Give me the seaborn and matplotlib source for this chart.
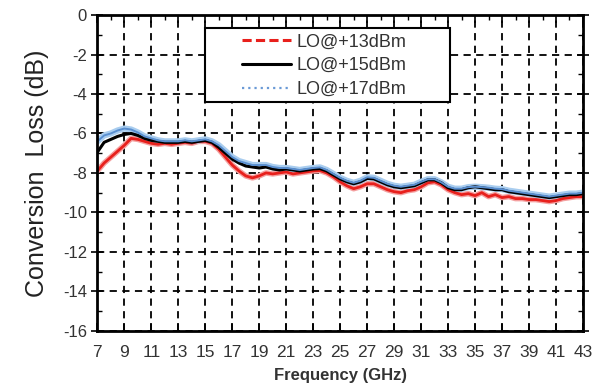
import matplotlib.pyplot as plt
import numpy as np
import pandas as pd
import seaborn as sns
from matplotlib.lines import Line2D
from matplotlib.patches import Rectangle
from matplotlib.ticker import MultipleLocator

freq_ghz = [7.0, 7.5, 8.0, 8.5, 9.0, 9.5, 10.0, 10.5, 11.0, 11.5, 12.0, 12.5,
            13.0, 13.5, 14.0, 14.5, 15.0, 15.5, 16.0, 16.5, 17.0, 17.5, 18.0, 18.5,
            19.0, 19.5, 20.0, 20.5, 21.0, 21.5, 22.0, 22.5, 23.0, 23.5, 24.0, 24.5,
            25.0, 25.5, 26.0, 26.5, 27.0, 27.5, 28.0, 28.5, 29.0, 29.5, 30.0, 30.5,
            31.0, 31.5, 32.0, 32.5, 33.0, 33.5, 34.0, 34.5, 35.0, 35.5, 36.0, 36.5,
            37.0, 37.5, 38.0, 38.5, 39.0, 39.5, 40.0, 40.5, 41.0, 41.5, 42.0, 42.5,
            43.0]

lo_13dbm = [-7.9, -7.5, -7.2, -6.9, -6.6, -6.25, -6.3, -6.4, -6.5, -6.55, -6.5, -6.55,
            -6.5, -6.45, -6.5, -6.4, -6.4, -6.5, -6.8, -7.2, -7.6, -7.9, -8.15, -8.25,
            -8.15, -8.0, -8.05, -8.0, -7.95, -8.05, -8.0, -7.95, -7.9, -7.88, -8.0, -8.2,
            -8.45, -8.65, -8.8, -8.7, -8.55, -8.55, -8.7, -8.85, -8.95, -9.0, -8.9, -8.85,
            -8.7, -8.5, -8.45, -8.6, -8.85, -9.0, -9.1, -9.05, -9.15, -9.0, -9.2, -9.1,
            -9.25, -9.2, -9.3, -9.3, -9.35, -9.35, -9.4, -9.45, -9.4, -9.3, -9.25, -9.2,
            -9.2]

lo_15dbm = [-6.95, -6.45, -6.3, -6.15, -6.05, -6.0, -6.1, -6.25, -6.35, -6.4, -6.45, -6.45,
            -6.45, -6.4, -6.45, -6.4, -6.35, -6.45, -6.7, -7.0, -7.3, -7.5, -7.65, -7.7,
            -7.75, -7.7, -7.8, -7.85, -7.8, -7.85, -7.9, -7.85, -7.8, -7.78, -7.9, -8.1,
            -8.3, -8.45, -8.55, -8.45, -8.28, -8.3, -8.45, -8.6, -8.7, -8.75, -8.7, -8.65,
            -8.5, -8.35, -8.35, -8.5, -8.75, -8.85, -8.85, -8.75, -8.7, -8.75, -8.8, -8.85,
            -8.85, -8.95, -9.0, -9.05, -9.1, -9.15, -9.2, -9.25, -9.2, -9.15, -9.1, -9.1,
            -9.05]

lo_17dbm = [-6.4, -6.1, -6.0, -5.85, -5.75, -5.8, -5.95, -6.15, -6.25, -6.35, -6.4, -6.4,
            -6.4, -6.35, -6.4, -6.35, -6.3, -6.4, -6.6, -6.9, -7.2, -7.4, -7.5, -7.6,
            -7.6, -7.6, -7.7, -7.75, -7.75, -7.8, -7.85, -7.8, -7.75, -7.72, -7.85, -8.05,
            -8.25, -8.4, -8.5, -8.4, -8.22, -8.25, -8.4, -8.55, -8.65, -8.7, -8.65, -8.6,
            -8.45, -8.32, -8.32, -8.48, -8.7, -8.8, -8.8, -8.72, -8.7, -8.72, -8.75, -8.8,
            -8.82, -8.9, -8.95, -9.0, -9.05, -9.1, -9.15, -9.2, -9.15, -9.1, -9.05, -9.05,
            -9.0]

labels = ["LO@+13dBm", "LO@+15dBm", "LO@+17dBm"]
x_ticks = list(range(7, 44, 2))

sns.set_style("ticks")
plt.rcParams["font.family"] = ["Liberation Sans", "DejaVu Sans"]
plt.rcParams["axes.unicode_minus"] = False

df = pd.DataFrame({"freq": freq_ghz, "lo13": lo_13dbm, "lo15": lo_15dbm, "lo17": lo_17dbm})

fig = plt.figure(figsize=(6.01, 3.86), dpi=100)
ax = fig.add_axes([0.162, 0.143, 0.808, 0.818])

ax.set_axisbelow(True)
ax.grid(True, which="major", color="black", linestyle=(0, (4, 3)), linewidth=1.3)

# light halos, then the curves themselves
sns.lineplot(data=df, x="freq", y="lo13", ax=ax, color="#f4a0a0", linewidth=4.0)
sns.lineplot(data=df, x="freq", y="lo17", ax=ax, color="#a9cdef", linewidth=4.5)
sns.lineplot(data=df, x="freq", y="lo13", ax=ax, color="#e8201c", linewidth=2.0)
sns.lineplot(data=df, x="freq", y="lo15", ax=ax, color="black", linewidth=2.2)
sns.lineplot(data=df, x="freq", y="lo17", ax=ax, color="#5a8fd0", linewidth=1.4)

ax.set_xlim(7, 43)
ax.set_ylim(-16, 0)
ax.set_xticks(x_ticks)
ax.xaxis.set_minor_locator(MultipleLocator(1))
ax.yaxis.set_major_locator(MultipleLocator(2))
ax.yaxis.set_minor_locator(MultipleLocator(1))
ax.tick_params(which="both", direction="in", top=True, right=True, color="black")
ax.tick_params(which="major", length=6, width=1.2, labelcolor="#333333")
ax.tick_params(which="minor", length=3.5, width=1.0)
ax.tick_params(axis="x", which="minor", bottom=False)
ax.tick_params(axis="x", which="major", labelsize=12.5, pad=10)
ax.tick_params(axis="y", which="major", direction="inout", length=8, labelsize=12)

for s in ax.spines.values():
    s.set_linewidth(2.0)
    s.set_color("black")

ax.set_xlabel("Frequency (GHz)", fontsize=12, fontweight="bold", color="#333333", labelpad=6)
ax.set_ylabel("Conversion  Loss (dB)", fontsize=18, color="#222222", labelpad=10)

# legend frame is wider than its contents in the original
ax.add_patch(Rectangle((0.222, 0.724), 0.504, 0.235, transform=ax.transAxes,
                       facecolor="white", edgecolor="black", linewidth=1.5, zorder=5))
handles = [
    Line2D([], [], color="#e8201c", linewidth=2.2, linestyle=(0, (3, 1.4))),
    Line2D([], [], color="black", linewidth=2.2),
    Line2D([], [], color="#6a9ad6", linewidth=1.6, linestyle=(0, (1, 1.8))),
]
leg = ax.legend(handles, labels, loc="upper left", bbox_to_anchor=(0.298, 0.942),
                fontsize=13, frameon=False, handlelength=2.7, handletextpad=0.3,
                borderpad=0, labelspacing=0.38, borderaxespad=0)
leg.set_zorder(6)
for t in leg.get_texts():
    t.set_color("#333333")

fig.savefig("out.png", dpi=100)
